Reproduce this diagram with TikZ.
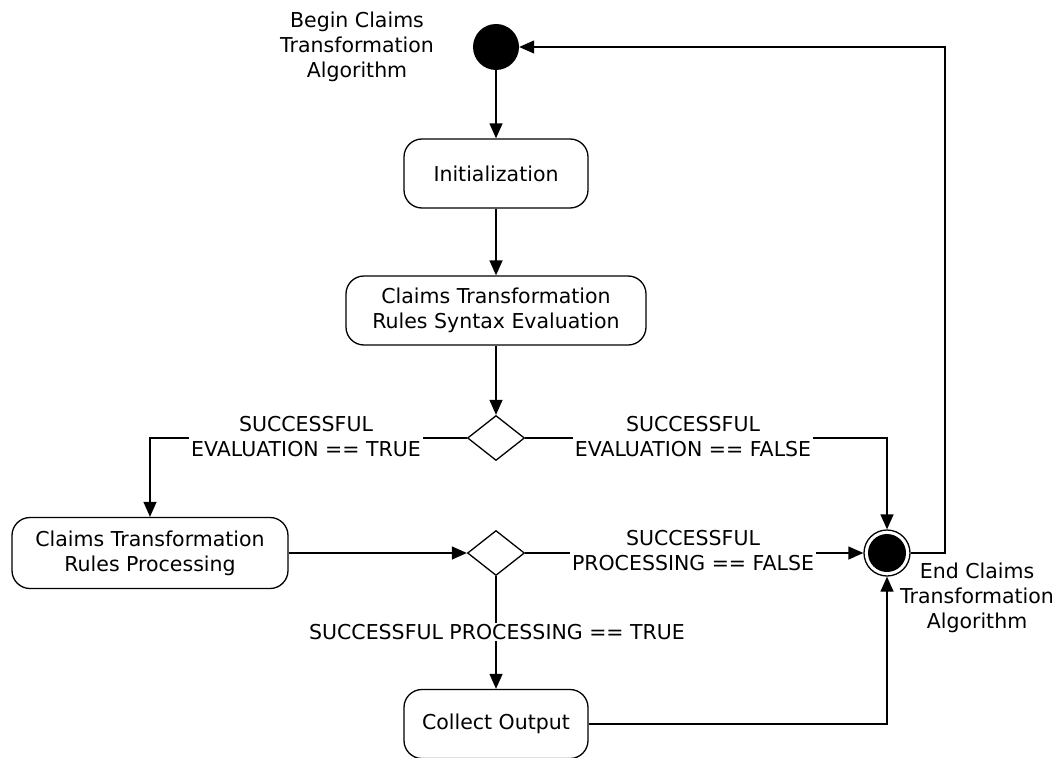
\documentclass[tikz,border=0pt]{standalone}
\usepackage{fontspec}
\setmainfont{DejaVu Sans}
\usetikzlibrary{arrows.meta,shapes.geometric}
\begin{document}
\begin{tikzpicture}[x=1pt,y=-1pt,
  every node/.style={font=\fontsize{20.5}{25}\selectfont},
  act/.style={draw, rounded corners=18pt, line width=1.3pt, align=center, inner sep=0pt},
  dec/.style={draw, diamond, line width=1.3pt, minimum width=57pt, minimum height=45pt, inner sep=0pt},
  conn/.style={line width=1.3pt, -{Triangle[length=15pt,width=13pt]}},
  lbl/.style={fill=white, align=center, inner xsep=2pt, inner ysep=1pt},
]
\useasboundingbox (0,0) rectangle (1059,757);
\node[act, minimum width=184pt, minimum height=69pt] (init) at (496,173.5) {Initialization};
\node[act, minimum width=300pt, minimum height=69pt] (syn) at (496,310.5) {Claims Transformation\\Rules Syntax Evaluation};
\node[dec] (d1) at (496,438) {};
\node[act, minimum width=276pt, minimum height=71pt] (proc) at (150,553) {Claims Transformation\\Rules Processing};
\node[dec] (d2) at (496,553) {};
\node[act, minimum width=184pt, minimum height=69pt] (col) at (496,724) {Collect Output};
\node[circle, fill, minimum size=46pt, inner sep=0pt] (start) at (496,47) {};
\node[circle, draw, line width=1.3pt, minimum size=46pt, inner sep=0pt] (end) at (887,553) {};
\fill (end.center) circle (19pt);
\node[align=center] (beginlbl) at (357,47) {Begin Claims\\Transformation\\Algorithm};
\node[align=center] (endlbl) at (977,598) {End Claims\\Transformation\\Algorithm};
\coordinate (ret) at (945,553);
\draw[conn] (start) -- (init);
\draw[conn] (init) -- (syn);
\draw[conn] (syn) -- (d1);
\draw[conn] (d1.west) -| (proc.north);
\draw[conn] (d1.east) -| (end.north);
\draw[conn] (proc.east) -- (d2.west);
\draw[conn] (d2.east) -- (end.west);
\draw[conn] (d2) -- (col);
\draw[conn] (col.east) -| (end.south);
\draw[conn] (end.east) -- (ret) |- (start.east);
\node[lbl] (l1) at (306,437) {SUCCESSFUL\\EVALUATION == TRUE};
\node[lbl] (l2) at (693,437) {SUCCESSFUL\\EVALUATION == FALSE};
\node[lbl] (l3) at (693,551) {SUCCESSFUL\\PROCESSING == FALSE};
\node[lbl] (l4) at (497,632) {SUCCESSFUL PROCESSING == TRUE};
\end{tikzpicture}
\end{document}
